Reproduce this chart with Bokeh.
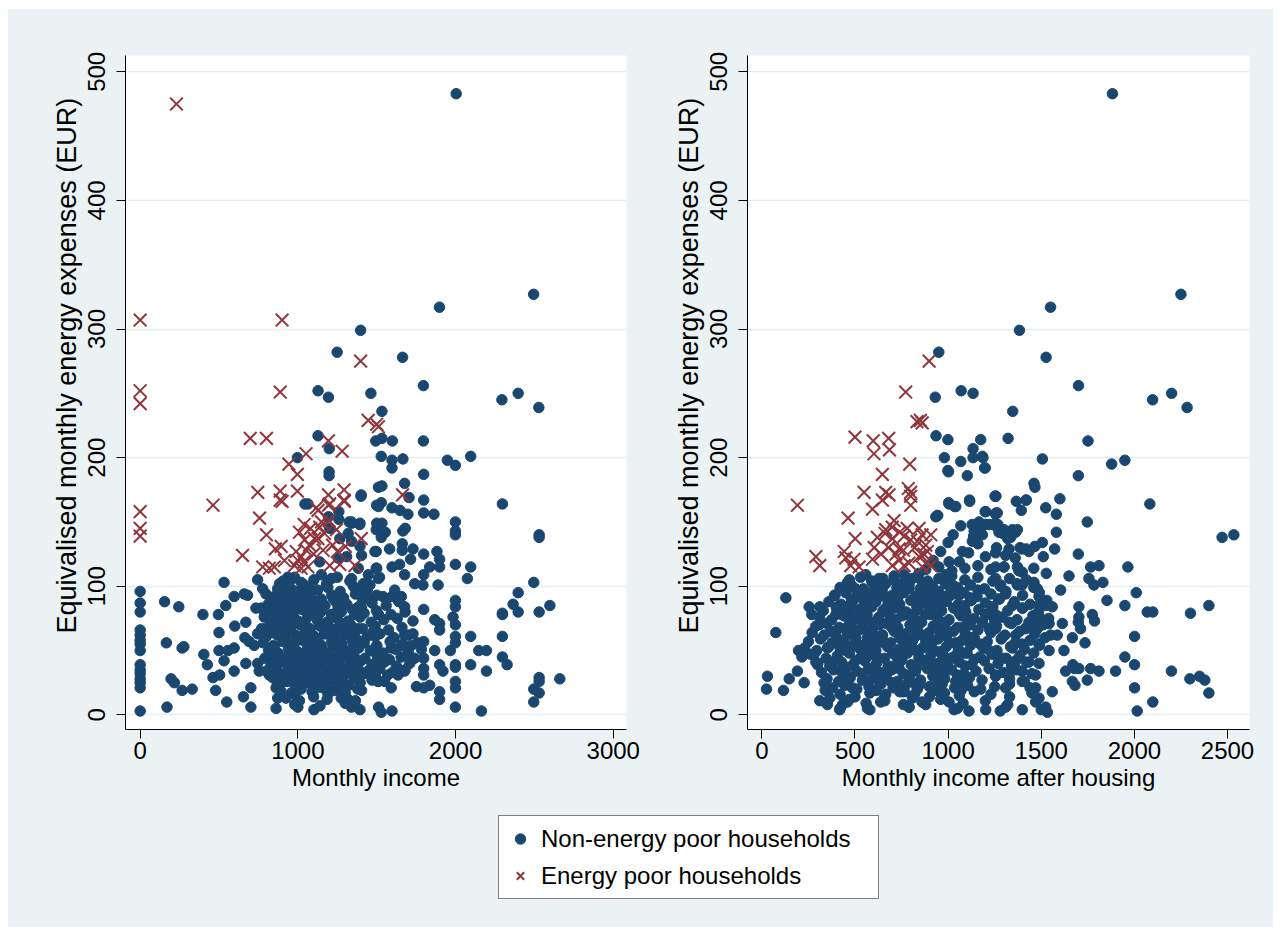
from bokeh.plotting import figure
from bokeh.layouts import column, row
from bokeh.models import Title, Legend, LegendItem, FixedTicker
from bokeh.embed import file_html
from bokeh.resources import INLINE

# ---------------- data ----------------
legend_labels = ["Non-energy poor households", "Energy poor households"]
left_xlabel = "Monthly income"
right_xlabel = "Monthly income after housing"
ylabel = "Equivalised monthly energy expenses (EUR)"
left_xticks = [0, 1000, 2000, 3000]
right_xticks = [0, 500, 1000, 1500, 2000, 2500]
yticks = [0, 100, 200, 300, 400, 500]

# Left panel: non-energy-poor households (income, expenses)
left_nonpoor_sparse = [
    (2004, 483), (1398, 299), (1898, 317), (2495, 327),
    (1249, 282), (1664, 278), (1128, 252), (1194, 247), (1463, 250), (1796, 256),
    (2294, 245), (2397, 250), (2528, 239), (1533, 236), (1128, 217), (1199, 207),
    (1494, 213), (1533, 215), (1599, 213), (1796, 213), (997, 200), (1402, 171),
    (1045, 164), (1260, 158), (1194, 154), (1260, 152), (1326, 150), (1392, 148),
    (1529, 201), (1597, 198), (1597, 192), (1666, 199), (1948, 198), (1999, 194),
    (2096, 201), (1798, 187), (1533, 178), (1677, 180), (1705, 169), (1798, 167),
    (1499, 163), (1529, 165), (1597, 161), (1648, 159), (1698, 156), (1798, 157),
    (1863, 156), (2297, 164), (1999, 150), (1999, 143), (1999, 140), (2530, 140),
    (2530, 138), (1533, 149), (1497, 144), (1554, 142), (1529, 138), (1666, 143),
    (1681, 145), (1582, 129), (1662, 133), (1662, 128), (1730, 129), (1715, 121),
    (1497, 127), (1798, 125), (1882, 127), (1899, 121), (1899, 115), (1999, 117),
    (2096, 115), (2075, 106), (1836, 115), (1597, 115), (1645, 117), (1677, 109),
    (1497, 114), (1518, 107), (1798, 109), (1741, 102), (1793, 101), (1889, 101),
    (2496, 103), (2397, 95), (2365, 86), (2397, 80), (2297, 79), (2297, 78),
    (2530, 80), (2598, 85), (1999, 89), (1999, 84), (1597, 92), (1614, 97),
    (1656, 92), (1677, 84), (1798, 82), (1868, 74), (1899, 71), (1899, 66),
    (1984, 76), (1999, 70), (1999, 61), (1999, 56), (2096, 61), (2297, 61),
    (1730, 63), (1798, 57), (1868, 50), (1967, 50), (1999, 39), (1999, 37),
    (2147, 50), (2196, 50), (2096, 39), (2196, 34), (1899, 39), (1920, 34),
    (2297, 45), (2327, 39), (2530, 29), (2530, 26), (2661, 28), (2496, 20),
    (2530, 17), (2496, 10), (1798, 44), (1798, 36), (1798, 31), (1752, 22),
    (1836, 23), (1798, 21), (1999, 26), (1999, 21), (1999, 6), (1899, 18),
    (1899, 12), (2164, 3), (1512, 6), (1529, 2), (1597, 3), (1677, 62),
    (1592, 52), (1508, 44), (1698, 47), (1635, 31), (1550, 26), (1497, 34),
    (1656, 54), (1719, 54), (1783, 51), (1677, 34), (1592, 21), (1508, 26),
    (0, 96), (0, 87), (0, 80), (0, 66), (0, 62), (0, 58), (0, 55), (0, 50),
    (0, 39), (0, 35), (0, 32), (0, 28), (0, 25), (0, 21), (0, 3),
    (155, 88), (245, 84), (166, 56), (266, 52), (277, 53), (196, 28), (217, 25),
    (266, 19), (330, 20), (170, 6), (398, 78), (496, 78), (532, 103), (500, 64),
    (404, 47), (426, 39), (500, 50), (532, 42), (557, 50), (596, 52), (462, 29),
    (504, 31), (479, 19), (549, 10), (596, 34), (543, 85), (596, 92), (600, 69),
    (660, 94), (681, 93), (670, 72), (664, 60), (691, 57), (670, 40), (655, 14),
    (702, 6), (745, 105), (777, 98), (798, 94), (734, 83), (766, 83), (787, 76),
    (798, 67), (745, 63), (723, 54), (745, 40), (755, 34), (702, 21), (851, 92),
    (872, 98), (883, 102), (926, 92), (894, 83), (840, 71), (872, 62), (851, 53),
    (819, 47), (819, 31), (862, 21), (872, 13), (862, 5), (936, 107), (979, 107),
    (1021, 103), (957, 98), (989, 91), (1032, 88), (936, 78), (1000, 72), (915, 60),
    (957, 54), (1000, 47), (926, 40), (968, 36), (915, 26), (979, 16), (1000, 6),
    (1102, 4), (1053, 98), (1074, 91), (1096, 84), (1149, 109), (1181, 101),
    (1213, 106), (1138, 79), (1191, 72), (1170, 63), (1064, 57), (1106, 49),
    (1149, 41), (1064, 31), (1128, 23), (1191, 16), (1223, 91), (1255, 83),
    (1245, 67), (1277, 54), (1234, 44), (1287, 34), (1266, 19), (1319, 12),
    (1340, 6), (1394, 4), (1404, 19), (1394, 34), (1362, 52), (1383, 67),
    (1404, 83), (1340, 106), (1394, 98), (1404, 93), (1383, 114), (1266, 137),
    (1340, 135), (1394, 131), (1340, 149), (1394, 149), (1319, 141), (1255, 122),
    (1309, 123), (1404, 124), (1340, 150), (1202, 145), (1198, 189), (1198, 186),
    (1400, 170), (1511, 177), (1511, 162), (1500, 149), (1489, 127), (1500, 114),
    (1511, 106), (1500, 93), (1511, 78), (1489, 61), (1500, 47), (1511, 26),
    (1447, 109), (1457, 101), (1064, 164), (1138, 119),
]
left_nonpoor_core = [
    (905, 104), (968, 106), (1030, 102), (1102, 105), (1185, 103), (1250, 107), (1330, 104), (1415, 102),
    (880, 97), (935, 99), (1002, 96), (1070, 100), (1125, 97), (1190, 99), (1268, 96), (1352, 100), (1440, 97),
    (842, 91), (900, 93), (958, 90), (1018, 94), (1080, 92), (1148, 90), (1215, 93), (1290, 91), (1365, 94),
    (1450, 90), (1540, 92),
    (812, 86), (870, 88), (930, 85), (990, 87), (1045, 84), (1110, 87), (1172, 85), (1240, 88), (1310, 86),
    (1385, 84), (1470, 87), (1560, 85), (1640, 88),
    (790, 79), (850, 81), (905, 78), (965, 80), (1025, 82), (1088, 79), (1150, 81), (1212, 78), (1275, 80),
    (1345, 82), (1420, 79), (1498, 81), (1590, 78), (1680, 80),
    (820, 74), (878, 72), (940, 75), (1000, 73), (1060, 76), (1122, 74), (1185, 72), (1250, 75), (1320, 73),
    (1395, 76), (1465, 72), (1545, 74), (1630, 75), (1730, 73),
    (770, 67), (835, 69), (895, 66), (955, 68), (1015, 70), (1078, 67), (1140, 69), (1205, 66), (1268, 68),
    (1335, 70), (1410, 67), (1490, 69), (1575, 66), (1660, 68),
    (800, 61), (860, 63), (920, 60), (985, 62), (1045, 64), (1105, 61), (1168, 63), (1232, 60), (1295, 62),
    (1360, 64), (1440, 61), (1520, 63), (1610, 60), (1700, 62),
    (780, 56), (845, 54), (905, 57), (965, 55), (1030, 58), (1090, 56), (1150, 54), (1215, 57), (1280, 55),
    (1345, 58), (1420, 56), (1500, 54), (1585, 57), (1665, 55), (1760, 56),
    (815, 50), (875, 48), (940, 51), (1000, 49), (1062, 52), (1125, 50), (1190, 48), (1255, 51), (1318, 49),
    (1385, 52), (1460, 50), (1540, 48), (1620, 51), (1700, 49),
    (790, 44), (850, 46), (912, 43), (975, 45), (1035, 47), (1098, 44), (1160, 46), (1222, 43), (1290, 45),
    (1355, 47), (1425, 44), (1505, 46), (1580, 43), (1655, 45), (1740, 44),
    (830, 39), (890, 41), (952, 38), (1012, 40), (1075, 42), (1138, 39), (1200, 41), (1265, 38), (1330, 40),
    (1400, 42), (1470, 39), (1548, 41), (1625, 38), (1710, 40),
    (800, 34), (865, 36), (925, 33), (990, 35), (1050, 37), (1112, 34), (1178, 36), (1240, 33), (1305, 35),
    (1372, 37), (1445, 34), (1520, 36), (1600, 33), (1680, 35),
    (840, 29), (900, 31), (962, 28), (1025, 30), (1088, 32), (1150, 29), (1215, 31), (1282, 28), (1350, 30),
    (1420, 32), (1495, 29), (1570, 31),
    (870, 24), (935, 26), (1000, 23), (1060, 25), (1125, 27), (1190, 24), (1255, 26), (1322, 23), (1395, 25),
    (1470, 27),
    (890, 19), (958, 17), (1020, 20), (1090, 18), (1160, 21), (1230, 19), (1300, 17), (1380, 20),
    (925, 13), (1010, 11), (1100, 14), (1185, 12), (1275, 13), (1365, 11),
    (980, 8), (1140, 7), (1300, 9),
]
left_nonpoor_fill = [
    (870, 89), (988, 89), (1115, 88), (1255, 90), (1410, 89),
    (850, 77), (970, 78), (1092, 78), (1218, 78), (1360, 78), (1510, 78),
    (925, 71), (1045, 71), (1170, 71), (1300, 71),
    (830, 65), (950, 65), (1075, 65), (1200, 65), (1328, 65), (1480, 65),
    (998, 58), (1122, 58), (1248, 58), (1380, 58),
    (845, 53), (970, 53), (1095, 53), (1222, 53), (1352, 53), (1500, 53),
    (942, 46), (1068, 46), (1192, 46), (1322, 46),
    (860, 42), (985, 42), (1108, 42), (1232, 42), (1365, 42), (1510, 42),
    (958, 38), (1082, 38), (1208, 38), (1338, 38),
    (932, 33), (1058, 33), (1185, 33), (1318, 33), (1460, 33),
    (968, 28), (1095, 28), (1222, 28), (1360, 28),
    (985, 21), (1120, 21), (1265, 21),
]
# Left panel: energy-poor households
left_poor = [
    (230, 475), (0, 307), (0, 252), (0, 242), (0, 158), (0, 145), (0, 139), (900, 307),
    (1398, 275), (888, 251), (698, 215), (801, 215), (1446, 229), (1500, 226), (1511, 224),
    (1194, 213), (1281, 205), (1052, 203), (943, 195), (997, 187), (746, 173), (888, 174),
    (997, 174), (1194, 171), (1293, 175), (462, 163), (888, 167), (1194, 163), (1293, 167),
    (1664, 171), (1117, 161), (757, 153), (801, 140), (1402, 137), (900, 166), (1202, 164),
    (1294, 166), (1128, 159), (1198, 151), (1138, 146), (1245, 144), (1170, 141), (894, 131),
    (857, 129), (1043, 136), (1074, 132), (1106, 137), (649, 124), (989, 127), (1021, 123),
    (1053, 128), (1000, 120), (1038, 119), (1064, 115), (915, 120), (851, 115), (777, 115),
    (819, 114), (979, 116), (1021, 114), (1202, 116), (1266, 117), (1362, 116), (1302, 131),
    (1128, 137), (1010, 142), (1040, 148), (1080, 145), (1150, 150), (1220, 132), (1100, 125),
    (1160, 128), (1250, 127),
]

# Right panel: non-energy-poor households (income after housing, expenses)
right_nonpoor_sparse = [
    (1882, 483), (1383, 299), (1550, 317), (2250, 327), (950, 282), (1526, 278), (931, 247),
    (1070, 252), (1134, 250), (1347, 236), (1700, 256), (2098, 245), (2200, 250), (2283, 239),
    (935, 217), (999, 214), (1175, 214), (1322, 215), (1751, 213), (1184, 201), (999, 190),
    (1199, 192), (1256, 170), (1115, 167), (1418, 167), (1003, 165), (1035, 162), (934, 154),
    (944, 155), (1199, 158), (1258, 157), (1068, 147), (1129, 148), (1166, 150), (1221, 148),
    (1267, 148), (1295, 141), (1137, 139), (1184, 140), (1027, 140), (1386, 130),
    (1506, 199), (1878, 195), (1949, 198), (1699, 186), (1461, 180), (1466, 177), (1366, 166),
    (1420, 167), (1393, 159), (1524, 161), (1600, 168), (1581, 156), (2083, 164), (1255, 170),
    (1264, 157), (1747, 150), (1255, 147), (1300, 144), (1345, 144), (1363, 142), (1336, 138),
    (1372, 144), (1581, 142), (1572, 129), (2471, 138), (2534, 140), (1327, 129), (1398, 129),
    (1434, 127), (1466, 131), (1506, 134), (1511, 123), (1255, 126), (1309, 124), (1699, 125),
    (1965, 115), (1765, 115), (1810, 116), (1649, 108), (1756, 106), (1783, 101), (1831, 103),
    (1527, 110), (1604, 97), (1255, 115), (1300, 115), (1372, 115), (1398, 111), (1255, 106),
    (1282, 101), (1309, 94), (1372, 101), (1398, 101), (1461, 103), (1479, 98), (1488, 92),
    (2010, 95), (1853, 89), (1949, 85), (2069, 80), (2099, 80), (2301, 79), (2400, 85),
    (1702, 84), (1702, 76), (1711, 67), (1699, 72), (1774, 78), (1786, 73), (2001, 61),
    (1488, 85), (1524, 85), (1559, 84), (1398, 83), (1345, 85), (1327, 72), (1434, 72),
    (1497, 75), (1542, 71), (1613, 71), (1550, 62), (1586, 62), (1667, 60), (1735, 56),
    (1622, 50), (1542, 50), (1631, 34), (1670, 39), (1679, 36), (1702, 36), (1765, 36),
    (1810, 34), (1747, 27), (1667, 26), (1681, 23), (1899, 34), (1949, 45), (2001, 39),
    (1559, 18), (2001, 21), (2015, 3), (2099, 10), (2199, 34), (2298, 28), (2350, 30),
    (2378, 27), (2400, 17), (1255, 78), (1255, 67), (1291, 60), (1363, 62), (1416, 67),
    (1452, 71), (1479, 67), (1345, 52), (1398, 55), (1488, 55), (1291, 44), (1363, 42),
    (1434, 41), (1488, 40), (1255, 31), (1327, 31), (1398, 34), (1470, 31), (1309, 21),
    (1398, 26), (1470, 21), (1488, 13), (1524, 6), (1533, 2), (1398, 4), (1309, 6),
    (75, 64), (30, 30), (25, 20), (116, 19), (147, 28), (191, 34), (227, 25), (129, 91),
    (254, 84), (268, 78), (311, 84), (308, 70), (197, 50), (263, 47), (290, 41), (299, 39),
    (334, 25), (340, 19), (365, 13), (352, 8), (418, 4), (311, 11), (393, 93), (415, 85),
    (397, 78), (451, 96), (460, 103), (504, 98), (531, 92), (486, 83), (531, 78), (370, 65),
    (397, 62), (352, 52), (379, 41), (424, 34), (451, 26), (486, 21), (469, 12), (433, 8),
    (540, 67), (567, 60), (522, 52), (558, 44), (594, 34), (629, 26), (665, 16), (567, 5),
    (638, 10), (558, 109), (594, 103), (629, 106), (647, 98), (665, 92), (612, 88), (665, 83),
    (701, 72), (629, 70), (647, 62), (612, 54), (710, 105), (737, 101), (764, 109), (790, 98),
    (808, 106), (844, 110), (862, 103), (898, 101), (880, 93), (916, 88), (943, 94), (737, 83),
    (773, 78), (808, 71), (755, 62), (808, 57), (773, 50), (844, 44), (737, 36), (790, 31),
    (844, 23), (755, 18), (808, 13), (880, 8), (790, 6), (907, 78), (951, 72), (987, 65),
    (916, 57), (969, 49), (1023, 44), (987, 34), (1041, 26), (951, 18), (1005, 10), (1032, 4),
    (1112, 3), (1202, 4), (987, 109), (1023, 101), (1059, 93), (1005, 119), (1077, 127),
    (1130, 135), (1166, 145), (1202, 148), (1246, 148), (1273, 142), (980, 200), (1068, 197),
    (1134, 207), (1187, 200), (1134, 200), (1196, 192), (1002, 189), (1103, 186), (1252, 170),
    (1116, 166), (1202, 158), (1255, 156), (1005, 164), (1041, 162), (942, 155),
]
right_nonpoor_core = [
    (470, 105), (530, 107), (590, 104), (650, 106), (710, 108), (770, 105), (830, 107), (890, 104),
    (950, 106), (1020, 108), (1090, 105), (1160, 107), (1240, 104), (1330, 106), (1420, 105),
    (420, 99), (480, 101), (545, 98), (605, 100), (665, 102), (725, 99), (790, 101), (850, 98),
    (915, 100), (985, 102), (1050, 99), (1120, 101), (1195, 98), (1280, 100), (1370, 102), (1460, 99),
    (390, 93), (450, 95), (515, 92), (575, 94), (640, 96), (700, 93), (760, 95), (825, 92), (888, 94),
    (950, 96), (1015, 93), (1085, 95), (1155, 92), (1230, 94), (1310, 96), (1400, 93), (1490, 95),
    (360, 88), (425, 86), (490, 89), (550, 87), (615, 90), (678, 88), (740, 86), (800, 89), (865, 87),
    (925, 90), (990, 88), (1055, 86), (1125, 89), (1200, 87), (1275, 90), (1355, 88), (1440, 86), (1530, 89),
    (330, 81), (400, 83), (460, 80), (525, 82), (590, 84), (650, 81), (712, 83), (775, 80), (838, 82),
    (900, 84), (965, 81), (1030, 83), (1095, 80), (1165, 82), (1240, 84), (1320, 81), (1400, 83), (1485, 80),
    (310, 76), (375, 74), (440, 77), (500, 75), (565, 78), (628, 76), (690, 74), (752, 77), (815, 75),
    (878, 78), (940, 76), (1005, 74), (1070, 77), (1140, 75), (1210, 78), (1290, 76), (1370, 74),
    (1455, 77), (1540, 75),
    (290, 69), (350, 71), (415, 68), (480, 70), (540, 72), (605, 69), (668, 71), (730, 68), (795, 70),
    (858, 72), (920, 69), (985, 71), (1050, 68), (1118, 70), (1185, 72), (1260, 69), (1340, 71),
    (1420, 68), (1510, 70),
    (270, 64), (335, 62), (395, 65), (460, 63), (522, 66), (585, 64), (648, 62), (710, 65), (772, 63),
    (835, 66), (898, 64), (962, 62), (1028, 65), (1092, 63), (1160, 66), (1230, 64), (1305, 62),
    (1385, 65), (1465, 63),
    (250, 57), (315, 59), (378, 56), (440, 58), (505, 60), (568, 57), (630, 59), (692, 56), (755, 58),
    (818, 60), (880, 57), (945, 59), (1008, 56), (1075, 58), (1140, 60), (1210, 57), (1285, 59),
    (1360, 56), (1440, 58), (1520, 60),
    (230, 52), (295, 50), (360, 53), (422, 51), (485, 54), (548, 52), (612, 50), (675, 53), (738, 51),
    (800, 54), (862, 52), (925, 50), (990, 53), (1055, 51), (1120, 54), (1190, 52), (1262, 50),
    (1335, 53), (1410, 51), (1490, 54),
    (215, 45), (280, 47), (345, 44), (405, 46), (470, 48), (532, 45), (595, 47), (658, 44), (720, 46),
    (782, 48), (845, 45), (908, 47), (972, 44), (1038, 46), (1102, 48), (1170, 45), (1240, 47),
    (1312, 44), (1385, 46), (1460, 48),
    (300, 40), (365, 38), (428, 41), (490, 39), (552, 42), (615, 40), (678, 38), (740, 41), (802, 39),
    (865, 42), (930, 40), (995, 38), (1060, 41), (1128, 39), (1195, 42), (1268, 40), (1340, 38), (1420, 41),
    (320, 33), (385, 35), (448, 32), (510, 34), (572, 36), (635, 33), (698, 35), (760, 32), (825, 34),
    (888, 36), (952, 33), (1018, 35), (1085, 32), (1150, 34), (1220, 36), (1295, 33), (1370, 35), (1450, 32),
    (350, 28), (412, 26), (475, 29), (540, 27), (602, 30), (665, 28), (728, 26), (790, 29), (852, 27),
    (918, 30), (982, 28), (1048, 26), (1115, 29), (1182, 27), (1255, 30), (1330, 28), (1410, 26),
    (380, 21), (445, 23), (510, 20), (575, 22), (640, 24), (705, 21), (770, 23), (835, 20), (900, 22),
    (968, 24), (1035, 21), (1105, 23), (1175, 20), (1250, 22), (1330, 24), (1440, 21),
    (420, 16), (500, 14), (580, 17), (660, 15), (740, 18), (820, 16), (900, 14), (980, 17), (1060, 15),
    (1140, 18), (1230, 16), (1330, 14), (1450, 17),
    (460, 10), (560, 9), (660, 11), (760, 8), (860, 10), (960, 12), (1080, 9), (1200, 11), (1320, 8), (1470, 10),
    (420, 5), (580, 4), (790, 6), (1050, 5), (1280, 3), (1500, 4),
    (880, 113), (950, 115), (1020, 112), (1090, 114), (1160, 116), (1230, 113), (1300, 115), (1380, 112), (1460, 114),
    (920, 120), (1060, 119), (1200, 123), (1360, 122),
    (960, 127), (1110, 126), (1260, 130), (1420, 129),
    (1000, 134), (1160, 133), (1320, 137),
    (1140, 143),
]
right_nonpoor_fill = [
    (512, 96), (635, 98), (758, 97), (882, 96), (1015, 98), (1160, 97),
    (480, 90), (607, 92), (730, 91), (855, 90), (980, 92), (1120, 91), (1270, 90),
    (457, 84), (582, 86), (708, 85), (832, 84), (958, 86), (1090, 85), (1235, 84),
    (430, 78), (556, 80), (680, 79), (805, 78), (930, 80), (1060, 79), (1200, 78),
    (470, 73), (596, 72), (720, 74), (845, 73), (972, 72), (1105, 74), (1250, 73),
    (446, 67), (572, 66), (698, 68), (822, 67), (950, 66), (1080, 68), (1220, 67),
    (488, 62), (612, 61), (738, 60), (862, 62), (990, 61), (1122, 60),
    (408, 55), (532, 54), (658, 56), (782, 55), (908, 54), (1038, 56), (1172, 55),
    (452, 50), (578, 49), (702, 48), (828, 50), (955, 49), (1085, 48), (1222, 50),
    (502, 42), (628, 44), (752, 43), (878, 42), (1008, 44), (1140, 43),
    (458, 37), (582, 36), (708, 38), (832, 37), (960, 36), (1092, 38),
    (542, 32), (668, 31), (792, 30), (920, 32), (1050, 31),
    (572, 26), (698, 25), (822, 24), (950, 26), (1082, 25),
    (615, 19), (765, 18), (915, 20), (1070, 19),
]
# Right panel: energy-poor households
right_poor = [
    (898, 275), (772, 251), (833, 228), (851, 229), (861, 227), (500, 216), (598, 213), (681, 215),
    (602, 203), (685, 206), (794, 195), (647, 187), (549, 173), (665, 173), (683, 171), (647, 167),
    (786, 176), (799, 173), (799, 170), (799, 163), (594, 160), (191, 163), (463, 153), (710, 151),
    (665, 144), (501, 137), (844, 145), (907, 140), (764, 139), (799, 136), (835, 135), (880, 132),
    (290, 123), (311, 116), (442, 127), (451, 122), (603, 130), (594, 121), (495, 121), (522, 115),
    (477, 116), (701, 116), (737, 120), (764, 116), (790, 118), (844, 123), (889, 127), (889, 119),
    (862, 115), (907, 116), (662, 141), (701, 137), (737, 129), (640, 125), (680, 130), (720, 125),
    (760, 128), (820, 130), (860, 140), (740, 142), (780, 145), (620, 138), (700, 146), (870, 125),
]

# ---------------- styling ----------------
BG = "#EAF2F3"
NAVY = "#1A476F"
MAROON = "#90353B"
FONT = "Liberation Sans"
DOT_SIZE = 10.5
X_SIZE = 18


def unzip(pairs):
    return [p[0] for p in pairs], [p[1] for p in pairs]


def make_panel(width, left_border, right_border, xr, xticks, xlabel, nonpoor, poor):
    p = figure(width=width, height=800, x_range=xr, y_range=(-11.4, 512.7),
               output_backend="svg", toolbar_location=None,
               min_border_left=left_border, min_border_right=right_border,
               min_border_top=46, min_border_bottom=80,
               background_fill_color="white", border_fill_color=BG,
               outline_line_color=None)
    nx, ny = unzip(nonpoor)
    px, py = unzip(poor)
    p.scatter(nx, ny, marker="circle", size=DOT_SIZE, fill_color=NAVY, line_color=NAVY)
    p.scatter(px, py, marker="x", size=X_SIZE, line_color=MAROON, line_width=2)

    p.xgrid.visible = False
    p.ygrid.grid_line_color = "#E4EDEF"
    p.ygrid.grid_line_width = 1.5
    p.ygrid.ticker = FixedTicker(ticks=yticks)

    p.xaxis.ticker = FixedTicker(ticks=xticks)
    p.yaxis.ticker = FixedTicker(ticks=yticks)
    for ax in (p.xaxis, p.yaxis):
        ax.axis_line_color = "black"
        ax.axis_line_width = 1
        ax.major_tick_line_color = "black"
        ax.major_tick_out = 9
        ax.major_tick_in = 0
        ax.minor_tick_line_color = None
        ax.major_label_text_font = FONT
        ax.major_label_text_font_size = "24px"
        ax.major_label_text_color = "black"
    p.xaxis.major_label_standoff = 3
    p.yaxis.major_label_standoff = 11
    p.yaxis.major_label_orientation = "vertical"

    p.xaxis.axis_label = xlabel
    p.xaxis.axis_label_text_font = FONT
    p.xaxis.axis_label_text_font_size = "24px"
    p.xaxis.axis_label_text_font_style = "normal"
    p.xaxis.axis_label_text_color = "black"
    p.xaxis.axis_label_standoff = 2

    # vertical axis title, placed from the bottom of the frame (as in the reference)
    yt = Title(text=ylabel, align="left", offset=96, text_font=FONT,
               text_font_size="27px", text_font_style="normal",
               text_color="black", standoff=8)
    p.add_layout(yt, "left")
    return p


lnx = left_nonpoor_sparse + left_nonpoor_core + left_nonpoor_fill
rnx = right_nonpoor_sparse + right_nonpoor_core + right_nonpoor_fill
p1 = make_panel(640, 117, 22, (-93, 3084), left_xticks, left_xlabel, lnx, left_poor)
p2 = make_panel(625, 99, 24, (-77, 2618), right_xticks, right_xlabel, rnx, right_poor)

# legend strip (its renderers hold one real point each, which lies outside this strip's range)
lf = figure(width=1265, height=118, output_backend="svg", toolbar_location=None,
            x_range=(0, 1), y_range=(0, 1), min_border=0,
            x_axis_location=None, y_axis_location=None,
            background_fill_color=BG, border_fill_color=BG, outline_line_color=None)
lf.grid.visible = False
ax0, ay0 = unzip(lnx[:1])
bx0, by0 = unzip(left_poor[:1])
r1 = lf.scatter(ax0, ay0, marker="circle", size=DOT_SIZE, fill_color=NAVY, line_color=NAVY)
r2 = lf.scatter(bx0, by0, marker="x", size=X_SIZE, line_color=MAROON, line_width=2)
legend = Legend(items=[LegendItem(label=legend_labels[0], renderers=[r1]),
                       LegendItem(label=legend_labels[1], renderers=[r2])],
                location=(490, 28), orientation="vertical",
                padding=8, spacing=8, margin=0,
                glyph_width=26, glyph_height=29, label_height=29, label_width=329,
                label_standoff=8,
                label_text_font=FONT, label_text_font_size="24px",
                label_text_color="black",
                border_line_color="black", border_line_width=1,
                background_fill_color="white", background_fill_alpha=1)
lf.add_layout(legend)

top = row(p1, p2, styles={"background-color": BG})
layout = column(top, lf, styles={"background-color": BG}, margin=(9, 0, 0, 8))
open("out.html", "w").write(file_html(layout, INLINE))
